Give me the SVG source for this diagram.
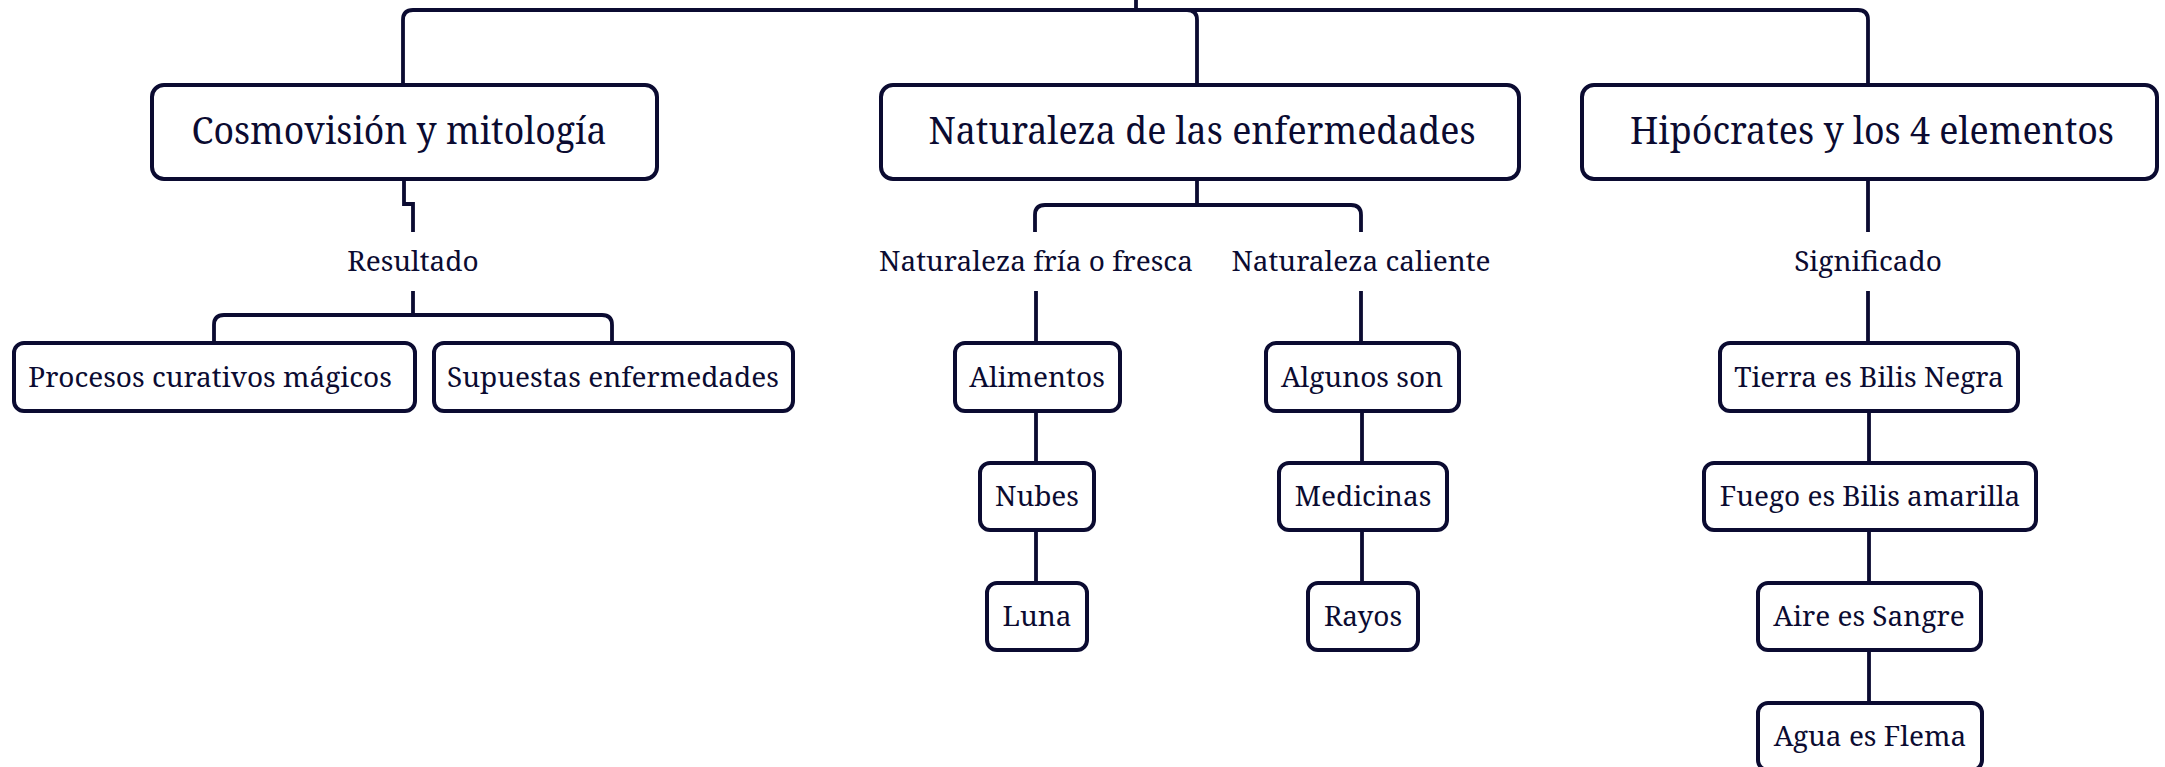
<svg xmlns="http://www.w3.org/2000/svg" width="2165" height="767" viewBox="0 0 2165 767">
<style>
.box{fill:#fff;stroke:#0b0b31;stroke-width:4}
.c{fill:none;stroke:#0b0b31;stroke-width:3.8}
text{font-family:"Noto Serif","DejaVu Serif Condensed","DejaVu Serif","Liberation Serif",serif;fill:#0b0b31;text-anchor:middle}
.big{font-size:38px}
.sm{font-size:28px}
</style>
<rect width="2165" height="767" fill="#fff"/>
<g id="connectors">
<path class="c" d="M1136,0 V10"/>
<path class="c" d="M1136,10 H413 Q403,10 403,20 V85"/>
<path class="c" d="M1136,10 H1187 Q1197,10 1197,20 V85"/>
<path class="c" d="M1136,10 H1858 Q1868,10 1868,20 V85"/>
<path class="c" d="M404,179 V204 H413 V232"/>
<path class="c" d="M413,291 V315"/>
<path class="c" d="M413,315 H224 Q214,315 214,325 V343"/>
<path class="c" d="M413,315 H602 Q612,315 612,325 V343"/>
<path class="c" d="M1197,179 V205"/>
<path class="c" d="M1197,205 H1045 Q1035,205 1035,215 V232"/>
<path class="c" d="M1197,205 H1351 Q1361,205 1361,215 V232"/>
<path class="c" d="M1036,291 V343 M1036,411 V463 M1036,530 V583"/>
<path class="c" d="M1361,291 V343 M1362,411 V463 M1362,530 V583"/>
<path class="c" d="M1868,179 V232 M1868,291 V343 M1869,411 V463 M1869,530 V583 M1869,650 V703"/>
</g>
<g id="n-cosmo"><rect class="box" x="152" y="85" width="505" height="94" rx="12"/><text class="big" x="399" y="144" textLength="415" lengthAdjust="spacingAndGlyphs">Cosmovisión y mitología</text></g>
<g id="n-natur"><rect class="box" x="881" y="85" width="638" height="94" rx="12"/><text class="big" x="1202" y="144" textLength="547" lengthAdjust="spacingAndGlyphs">Naturaleza de las enfermedades</text></g>
<g id="n-hipo"><rect class="box" x="1582" y="85" width="575" height="94" rx="12"/><text class="big" x="1872" y="144" textLength="484" lengthAdjust="spacingAndGlyphs">Hipócrates y los 4 elementos</text></g>
<g id="l-resultado"><text class="sm" x="413" y="271">Resultado</text></g>
<g id="l-fria"><text class="sm" x="1036" y="271">Naturaleza fría o fresca</text></g>
<g id="l-caliente"><text class="sm" x="1361" y="271">Naturaleza caliente</text></g>
<g id="l-significado"><text class="sm" x="1868" y="271">Significado</text></g>
<g id="n-procesos"><rect class="box" x="14" y="343" width="401" height="68" rx="10"/><text class="sm" x="210" y="387">Procesos curativos mágicos</text></g>
<g id="n-supuestas"><rect class="box" x="434" y="343" width="359" height="68" rx="10"/><text class="sm" x="613" y="387">Supuestas enfermedades</text></g>
<g id="n-alimentos"><rect class="box" x="955" y="343" width="165" height="68" rx="10"/><text class="sm" x="1037" y="387">Alimentos</text></g>
<g id="n-nubes"><rect class="box" x="980" y="463" width="114" height="67" rx="10"/><text class="sm" x="1037" y="506">Nubes</text></g>
<g id="n-luna"><rect class="box" x="987" y="583" width="100" height="67" rx="10"/><text class="sm" x="1037" y="626">Luna</text></g>
<g id="n-algunos"><rect class="box" x="1266" y="343" width="193" height="68" rx="10"/><text class="sm" x="1362" y="387">Algunos son</text></g>
<g id="n-medicinas"><rect class="box" x="1279" y="463" width="168" height="67" rx="10"/><text class="sm" x="1363" y="506">Medicinas</text></g>
<g id="n-rayos"><rect class="box" x="1308" y="583" width="110" height="67" rx="10"/><text class="sm" x="1363" y="626">Rayos</text></g>
<g id="n-tierra"><rect class="box" x="1720" y="343" width="298" height="68" rx="10"/><text class="sm" x="1869" y="387">Tierra es Bilis Negra</text></g>
<g id="n-fuego"><rect class="box" x="1704" y="463" width="332" height="67" rx="10"/><text class="sm" x="1870" y="506">Fuego es Bilis amarilla</text></g>
<g id="n-aire"><rect class="box" x="1758" y="583" width="223" height="67" rx="10"/><text class="sm" x="1869" y="626">Aire es Sangre</text></g>
<g id="n-agua"><rect class="box" x="1758" y="703" width="224" height="67" rx="10"/><text class="sm" x="1870" y="746">Agua es Flema</text></g>
</svg>
